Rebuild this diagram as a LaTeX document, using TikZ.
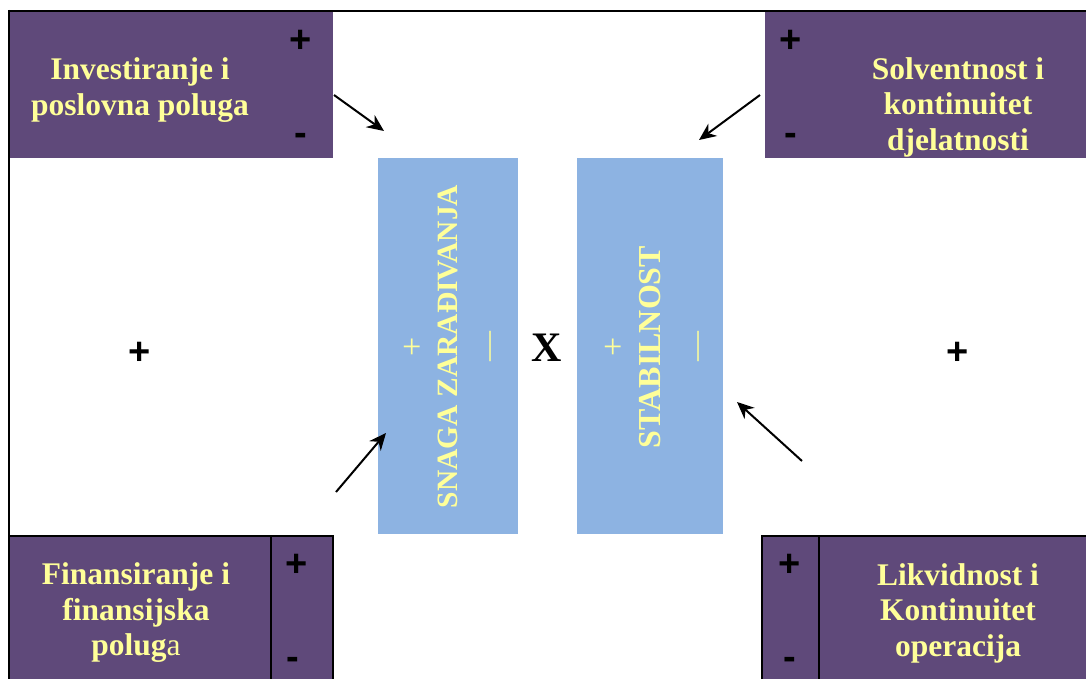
\documentclass[tikz,border=0pt]{standalone}
\usepackage{fontspec}
\setmainfont{Liberation Serif}
\newfontfamily\signfont{Liberation Sans}
\usetikzlibrary{arrows.meta}
\definecolor{purp}{RGB}{95,73,122}
\definecolor{lblue}{RGB}{141,179,226}
\definecolor{ylw}{RGB}{255,255,153}
\begin{document}
\begin{tikzpicture}[x=1pt,y=-1pt,
  pbox/.style={fill=purp, draw=none, inner sep=0, anchor=north west},
  bbox/.style={fill=lblue, draw=none, inner sep=0, anchor=north west},
  btext/.style={text=ylw, font=\fontsize{31.5}{35.5}\selectfont\bfseries, align=center, inner sep=0},
  vtext/.style={text=ylw, font=\fontsize{29.5}{30}\selectfont\bfseries, rotate=90, inner sep=0},
  vsign/.style={text=ylw, font=\fontsize{34}{34}\selectfont, rotate=90, inner sep=0},
  vdash/.style={text=ylw, font=\fontsize{30}{30}\selectfont, rotate=90, inner sep=0},
  sign/.style={font=\signfont\fontsize{38}{38}\selectfont\bfseries, inner sep=0},
  arr/.style={line width=2pt, -{Stealth[length=17pt,width=15pt]}},
  frameline/.style={line width=2pt, draw=black},
  ]
\useasboundingbox (0,0) rectangle (1086,679);
\begin{scope}
\clip (0,0) rectangle (1086,679);
% purple boxes
\node[pbox, minimum width=323pt, minimum height=146pt] (tl) at (10,12) {};
\node[pbox, minimum width=330pt, minimum height=146pt] (tr) at (765,12) {};
\node[pbox, minimum width=323pt, minimum height=150pt] (bl) at (10,537) {};
\node[pbox, minimum width=330pt, minimum height=150pt] (br) at (763,537) {};
% blue boxes
\node[bbox, minimum width=140pt, minimum height=376pt] (lb) at (378,158) {};
\node[bbox, minimum width=146pt, minimum height=376pt] (rb) at (577,158) {};
% frame lines
\draw[frameline] (8,11) -- (1090,11);
\draw[frameline] (9,10) -- (9,690);
\draw[frameline] (9,536) -- (333,536) -- (333,690);
\draw[frameline] (271,536) -- (271,690);
\draw[frameline] (762,690) -- (762,536) -- (1090,536);
\draw[frameline] (819,536) -- (819,690);
\end{scope}
% texts in purple boxes
\node[btext] (tltext) at (140,90) {Investiranje i\\poslovna poluga};
\node[btext] (trtext) at (958,107) {Solventnost i\\kontinuitet\\djelatnosti};
\node[btext] (bltext) at (136,613) {Finansiranje i\\finansijska\\polug{\mdseries a}};
\node[btext] (brtext) at (958,613) {Likvidnost i\\Kontinuitet\\operacija};
% signs
\node[sign] (tlp) at (301,41) {+};
\node[sign] (tlm) at (301,139) {-};
\node[sign] (trp) at (791,41) {+};
\node[sign] (trm) at (791,139) {-};
\node[sign] (blp) at (297,565) {+};
\node[sign] (blm) at (293,663) {-};
\node[sign] (brp) at (790,565) {+};
\node[sign] (brm) at (790,663) {-};
\node[sign] (midl) at (140,353) {+};
\node[sign] (midr) at (958,353) {+};
% blue box texts
\node[vtext] (snaga) at (448,346.5) {SNAGA ZARAĐIVANJA};
\node[vsign] (lbp) at (414,347) {+};
\node[vdash] (lbm) at (494,346) {—};
\node[vtext, font=\fontsize{32}{32}\selectfont\bfseries] (stab) at (650,347) {STABILNOST};
\node[vsign] (rbp) at (615,347) {+};
\node[vdash] (rbm) at (702,346) {—};
\node[font=\fontsize{42}{42}\selectfont\bfseries, inner sep=0] (x) at (547,348) {X};
% arrows
\coordinate (a1s) at (334,95);  \coordinate (a1e) at (384,131);
\coordinate (a2s) at (760,95);  \coordinate (a2e) at (699,140);
\coordinate (a3s) at (336,492); \coordinate (a3e) at (386,433);
\coordinate (a4s) at (802,461); \coordinate (a4e) at (737,402);
\draw[arr] (a1s) -- (a1e);
\draw[arr] (a2s) -- (a2e);
\draw[arr] (a3s) -- (a3e);
\draw[arr] (a4s) -- (a4e);
\end{tikzpicture}
\end{document}
